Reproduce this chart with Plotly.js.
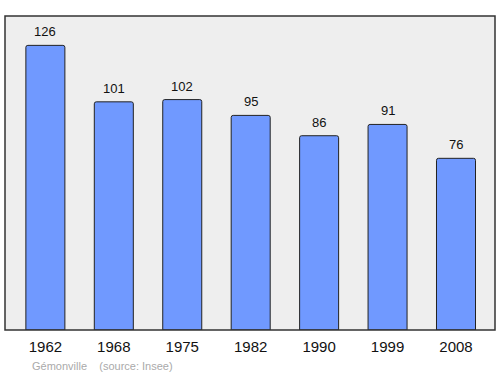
<!DOCTYPE html>
<html><head><meta charset="utf-8">
<script src="https://cdn.plot.ly/plotly-3.0.1.min.js"></script>
<style>html,body{margin:0;padding:0;background:#fff}#c{width:500px;height:374px}</style>
</head><body><div id="c"></div>
<script>
const years = ["1962","1968","1975","1982","1990","1999","2008"];
const population = [126,101,102,95,86,91,76];
const footer = "Gémonville    (source: Insee)";

const data = [{
  type: "bar",
  x: years,
  y: population,
  width: 0.57,
  marker: {color: "#7099ff", line: {color: "#222", width: 1}, cornerradius: 2},
  hoverinfo: "none"
}];
const annotations = years.map((yr, i) => ({
  x: i, y: population[i], xref: "x", yref: "y",
  text: String(population[i]), showarrow: false,
  yanchor: "bottom", yshift: 4,
  font: {family: "Liberation Sans, Arial, sans-serif", size: 13, color: "#111"}
}));
annotations.push({
  xref: "paper", yref: "paper", x: 0.05, y: -0.114, xanchor: "left", yanchor: "middle",
  text: footer.replace(/ /g, "&nbsp;"), showarrow: false,
  font: {family: "Liberation Sans, Arial, sans-serif", size: 11, color: "#aaa"}
});
const layout = {
  width: 500, height: 374,
  margin: {l: 5, r: 5, t: 16, b: 44},
  paper_bgcolor: "#fff", plot_bgcolor: "#eeeeee",
  showlegend: false,
  xaxis: {type: "category", range: [-0.59, 6.57], showgrid: false, zeroline: false,
    showline: false, ticks: "outside", ticklen: 3, tickcolor: "rgba(0,0,0,0)", fixedrange: true,
    tickfont: {family: "Liberation Sans, Arial, sans-serif", size: 15, color: "#111"}},
  yaxis: {range: [0, 139], showgrid: false, zeroline: false, showticklabels: false,
    showline: false, ticks: "", fixedrange: true},
  shapes: [{type: "rect", xref: "paper", yref: "paper", x0: 0, x1: 1, y0: 0, y1: 1,
    line: {color: "#333", width: 1.5}, fillcolor: "rgba(0,0,0,0)"}],
  annotations: annotations
};
Plotly.newPlot("c", data, layout, {displayModeBar: false, staticPlot: true});
</script></body></html>
